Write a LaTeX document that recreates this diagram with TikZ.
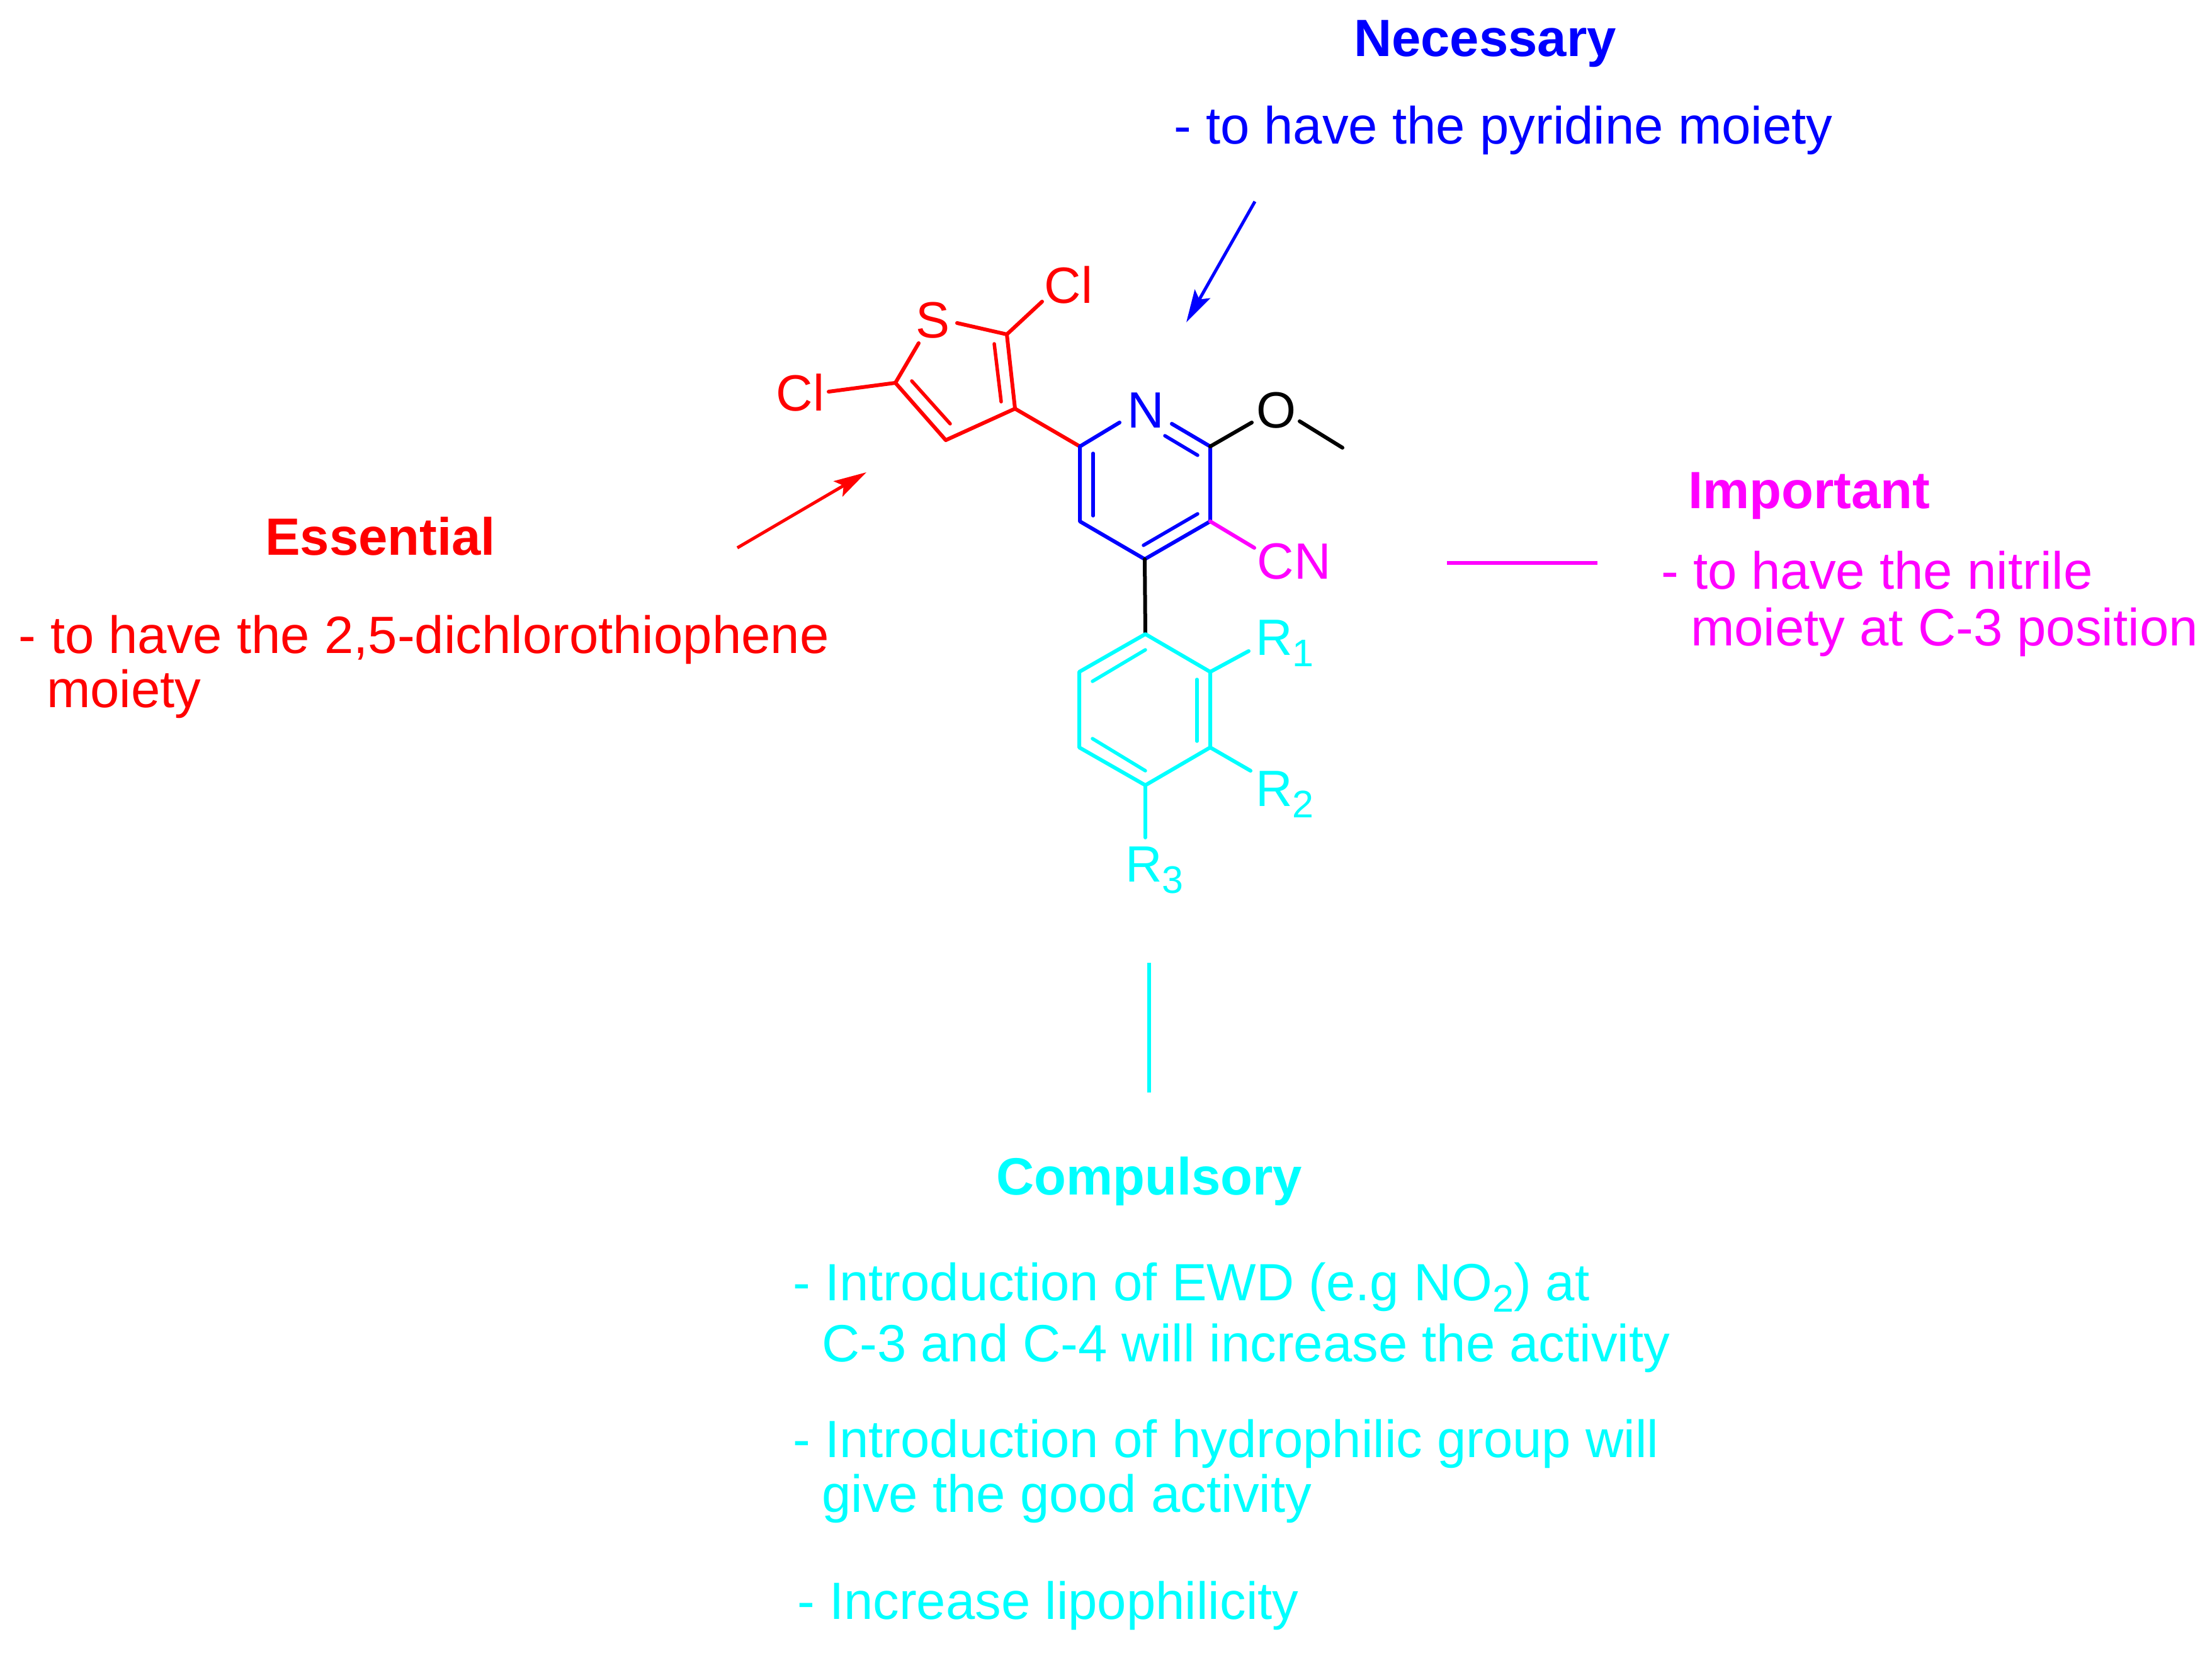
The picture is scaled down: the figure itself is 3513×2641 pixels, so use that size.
\documentclass[tikz,border=0pt]{standalone}
\usepackage{fontspec}
\setmainfont{Liberation Sans}
\usetikzlibrary{arrows.meta}
\definecolor{rd}{RGB}{255,0,0}
\definecolor{bl}{RGB}{0,0,255}
\definecolor{mg}{RGB}{255,0,255}
\definecolor{cy}{RGB}{0,255,255}
\newcommand{\lowsub}[1]{\raisebox{-18.5pt}{\fontsize{61}{61}\selectfont #1}}
\tikzset{
  txt/.style={anchor=base west,inner sep=0pt,font=\fontsize{83.3}{83.3}\selectfont},
  head/.style={txt,font=\fontsize{83.3}{83.3}\selectfont\bfseries},
  chemlabel/.style={anchor=base west,inner sep=0pt,font=\fontsize{81}{81}\selectfont},
  atom/.style={anchor=center,inner sep=0pt,font=\fontsize{81}{81}\selectfont},
  bond/.style={line width=6pt,line cap=round,line join=round},
  inner bond/.style={line width=5.5pt,line cap=round},
  pointer/.style={line width=5pt,-{Stealth[length=52pt,width=28pt,inset=10pt]}},
  rule line/.style={line width=6pt},
}
\begin{document}
\begin{tikzpicture}[x=1pt,y=-1pt]
\useasboundingbox (0,0) rectangle (3513,2641);
% thiophene
\coordinate (tC2) at (1599,531);
\coordinate (tC3) at (1612,649);
\coordinate (tC4) at (1502,699);
\coordinate (tC5) at (1422,608);
\coordinate (tS2) at (1520,513);
\coordinate (tS5) at (1459,545);
\coordinate (tCl2) at (1655,479);
\coordinate (tCl5) at (1316,622);
\coordinate (ti1) at (1579,546);
\coordinate (ti2) at (1590,638);
\coordinate (ti3) at (1448,605);
\coordinate (ti4) at (1509,673);
\node[atom,text=rd] (S) at (1481,509) {S};
\node[atom,text=rd] (Cla) at (1697,453) {Cl};
\node[atom,text=rd] (Clb) at (1271,624) {Cl};
\draw[bond,rd] (tS2) -- (tC2) -- (tC3) -- (tC4) -- (tC5) -- (tS5);
\draw[bond,rd] (tC2) -- (tCl2);
\draw[bond,rd] (tC5) -- (tCl5);
\draw[inner bond,rd] (ti1) -- (ti2);
\draw[inner bond,rd] (ti3) -- (ti4);
% pyridine
\coordinate (p6) at (1715,709);
\coordinate (p5) at (1715,828);
\coordinate (p4) at (1818,888);
\coordinate (p3) at (1922,828);
\coordinate (p2) at (1922,709);
\coordinate (pNa) at (1778,671);
\coordinate (pNb) at (1861,673);
\coordinate (pi1) at (1736,720);
\coordinate (pi2) at (1736,819);
\coordinate (pi3) at (1850,692);
\coordinate (pi4) at (1902,723);
\coordinate (pi5) at (1902,816);
\coordinate (pi6) at (1816,866);
\node[atom,text=bl] (N) at (1820,652) {N};
\draw[bond,rd] (tC3) -- (p6);
\draw[bond,bl] (pNa) -- (p6) -- (p5) -- (p4) -- (p3) -- (p2) -- (pNb);
\draw[inner bond,bl] (pi1) -- (pi2);
\draw[inner bond,bl] (pi3) -- (pi4);
\draw[inner bond,bl] (pi5) -- (pi6);
% methoxy
\coordinate (oa) at (1988,671);
\coordinate (ob) at (2064,669);
\coordinate (oc) at (2132,711);
\node[atom] (O) at (2027,652) {O};
\draw[bond,black] (p2) -- (oa);
\draw[bond,black] (ob) -- (oc);
% nitrile
\coordinate (cna) at (1992,870);
\node[atom,text=mg] (CN) at (2055,892) {CN};
\draw[bond,mg] (p3) -- (cna);
% benzene
\coordinate (b1) at (1819,1007);
\coordinate (b2) at (1922,1067);
\coordinate (b3) at (1922,1187);
\coordinate (b4) at (1819,1247);
\coordinate (b5) at (1714,1187);
\coordinate (b6) at (1714,1067);
\coordinate (bi1) at (1819,1032);
\coordinate (bi2) at (1735,1082);
\coordinate (bi3) at (1901,1079);
\coordinate (bi4) at (1901,1177);
\coordinate (bi5) at (1819,1224);
\coordinate (bi6) at (1735,1173);
\coordinate (r1e) at (1983,1034);
\coordinate (r2e) at (1986,1224);
\coordinate (r3e) at (1819,1330);
\draw[bond,black] (p4) -- (b1);
\draw[bond,cy] (b1) -- (b2) -- (b3) -- (b4) -- (b5) -- (b6) -- cycle;
\draw[inner bond,cy] (bi1) -- (bi2);
\draw[inner bond,cy] (bi3) -- (bi4);
\draw[inner bond,cy] (bi5) -- (bi6);
\draw[bond,cy] (b2) -- (r1e);
\draw[bond,cy] (b3) -- (r2e);
\draw[bond,cy] (b4) -- (r3e);
\node[chemlabel,text=cy] (R1) at (1994,1040) {R\lowsub{1}};
\node[chemlabel,text=cy] (R2) at (1994,1280) {R\lowsub{2}};
\node[chemlabel,text=cy] (R3) at (1787,1400) {R\lowsub{3}};
% pointers
\coordinate (ra) at (1171,870);
\coordinate (rb) at (1376,750);
\coordinate (ba) at (1993,320);
\coordinate (bb) at (1884,512);
\draw[pointer,rd] (ra) -- (rb);
\draw[pointer,bl] (ba) -- (bb);
\coordinate (ma) at (2298,894);
\coordinate (mb) at (2537,894);
\draw[rule line,mg] (ma) -- (mb);
\coordinate (ca) at (1825,1529);
\coordinate (cb) at (1825,1735);
\draw[rule line,cy] (ca) -- (cb);
% texts
\node[head,text=bl] (t1) at (2150,90) {Necessary};
\node[txt,text=bl] (t2) at (1864,229) {- to have the pyridine moiety};
\node[head,text=rd] (t3) at (421,881) {Essential};
\node[txt,text=rd] (t4) at (29,1037) {- to have the 2,5-dichlorothiophene};
\node[txt,text=rd] (t5) at (74,1123) {moiety};
\node[head,text=mg] (t6) at (2681,807) {Important};
\node[txt,text=mg] (t7) at (2638,935) {- to have the nitrile};
\node[txt,text=mg] (t8) at (2685,1025) {moiety at C-3 position};
\node[head,text=cy] (t9) at (1582,1897) {Compulsory};
\node[txt,text=cy] (t10) at (1259,2065) {- Introduction of EWD (e.g NO\lowsub{2}) at};
\node[txt,text=cy] (t11) at (1305,2162) {C-3 and C-4 will increase the activity};
\node[txt,text=cy] (t12) at (1259,2314) {- Introduction of hydrophilic group will};
\node[txt,text=cy] (t13) at (1305,2401) {give the good activity};
\node[txt,text=cy] (t14) at (1266,2571) {- Increase lipophilicity};
\end{tikzpicture}
\end{document}
